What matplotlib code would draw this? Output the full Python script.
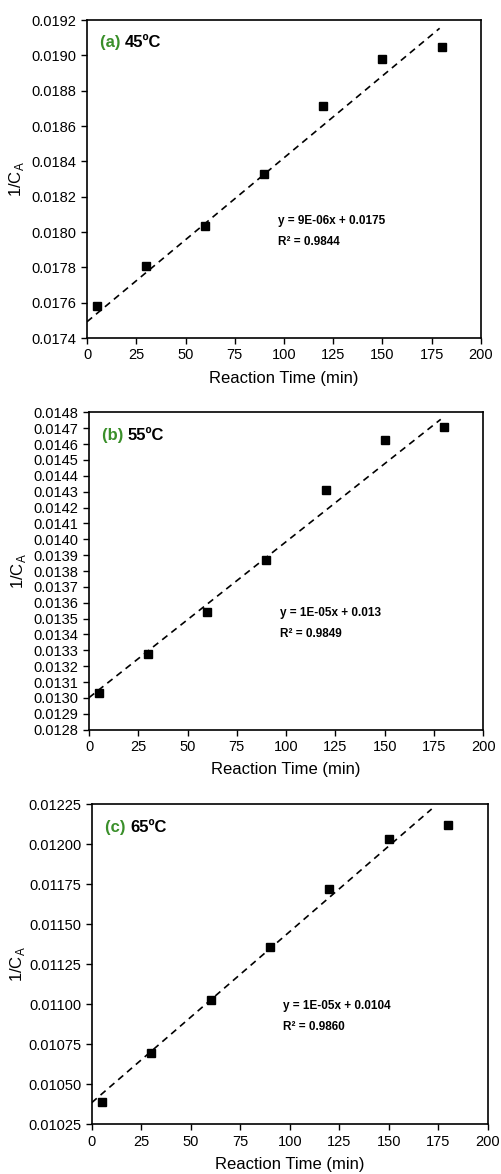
import numpy as np
import matplotlib
matplotlib.use("Agg")
import matplotlib.pyplot as plt

plt.rcParams["font.family"] = ["Liberation Sans", "DejaVu Sans"]

# Reaction time (min) and 1/C_A readings for each temperature
time_min = [5, 30, 60, 90, 120, 150, 180]
inv_ca_45 = [0.017581, 0.017806, 0.018036, 0.018327, 0.018711, 0.018979, 0.019049]
inv_ca_55 = [0.013029, 0.013279, 0.013544, 0.013867, 0.014308, 0.014625, 0.014705]
inv_ca_65 = [0.010391, 0.010697, 0.011026, 0.011359, 0.011717, 0.012033, 0.012121]

# Trendlines as drawn (slope, intercept, last x)
fit_45 = (9.28e-6, 0.017492, 179)
fit_55 = (9.83e-6, 0.013002, 178.4)
fit_65 = (1.068e-5, 0.010385, 171.7)

panel_tags = ["(a)", "(b)", "(c)"]
temps = ["45ºC", "55ºC", "65ºC"]
equations = ["y = 9E-06x + 0.0175", "y = 1E-05x + 0.013", "y = 1E-05x + 0.0104"]
r2_labels = ["R² = 0.9844", "R² = 0.9849", "R² = 0.9860"]

y_ranges = [(0.0174, 0.0192, 0.0002), (0.0128, 0.0148, 0.0001), (0.01025, 0.01225, 0.00025)]
y_fmts = ["{:.4f}", "{:.4f}", "{:.5f}"]
x_ticks = [0, 25, 50, 75, 100, 125, 150, 175, 200]

W, H = 502, 1174
fig = plt.figure(figsize=(W / 100, H / 100), dpi=100)
# axes boxes in pixels: left, right, top, bottom
boxes = [(87, 481, 20, 338), (89, 483.3, 412.3, 729.7), (91.7, 487.7, 804, 1124.3)]

series = [inv_ca_45, inv_ca_55, inv_ca_65]
fits = [fit_45, fit_55, fit_65]

for i in range(3):
    l, r, t, b = boxes[i]
    ax = fig.add_axes([l / W, 1 - b / H, (r - l) / W, (b - t) / H])
    m, c, xend = fits[i]
    xf = np.array([0, xend])
    ax.plot(xf, m * xf + c, color="black", lw=1.2, ls=(0, (4, 3)))
    ax.plot(time_min, series[i], ls="none", marker="s", ms=5.5, color="black")

    lo, hi, step = y_ranges[i]
    ax.set_ylim(lo, hi)
    ax.set_xlim(0, 200)
    yt = np.arange(lo, hi + step / 2, step)
    ax.set_yticks(yt)
    ax.set_yticklabels([y_fmts[i].format(v) for v in yt])
    ax.set_xticks(x_ticks)
    ax.tick_params(direction="out", length=4, width=1, labelsize=10.5, colors="black")
    for s in ax.spines.values():
        s.set_linewidth(1.2)

    ax.set_xlabel("Reaction Time (min)", fontsize=12, labelpad=6)
    ax.set_ylabel(r"1/C$_\mathregular{A}$", fontsize=12, labelpad=1 if i == 2 else 4)

    t1 = ax.text(0.033, 0.928, panel_tags[i] + " ", transform=ax.transAxes,
                 color="#3a8f2a", fontsize=12, fontweight="bold", va="center")
    ax.annotate(temps[i], xy=(1, 0.5), xycoords=t1, va="center",
                fontsize=12, fontweight="bold", color="black")

    ax.text(0.484, 0.369, equations[i], transform=ax.transAxes,
            fontsize=8.5, fontweight="bold", va="center")
    ax.text(0.484, 0.303, r2_labels[i], transform=ax.transAxes,
            fontsize=8.5, fontweight="bold", va="center")

fig.savefig("out.png", dpi=100)
